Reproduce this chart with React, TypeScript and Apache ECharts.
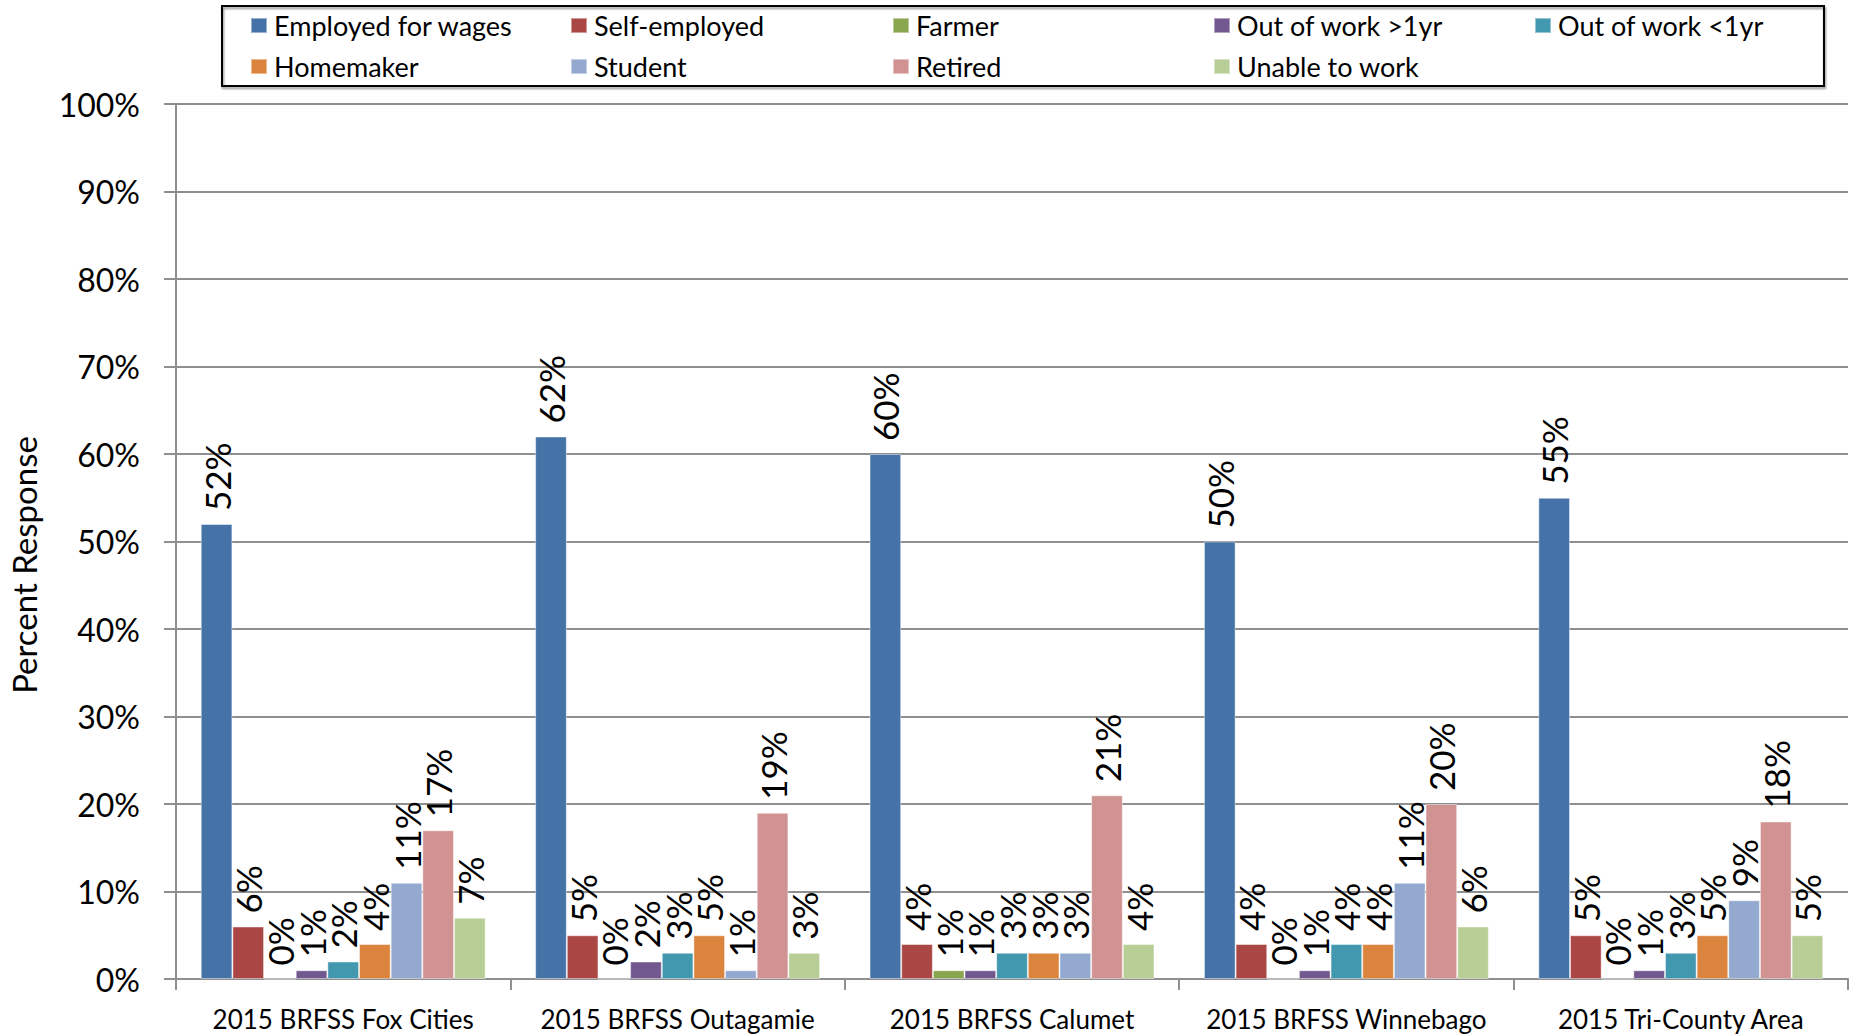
import React, { useEffect, useRef } from "react";
import * as echarts from "echarts";

const categories = [
  "2015 BRFSS Fox Cities",
  "2015 BRFSS Outagamie",
  "2015 BRFSS Calumet",
  "2015 BRFSS Winnebago",
  "2015 Tri-County Area",
];

const seriesNames = [
  "Employed for wages",
  "Self-employed",
  "Farmer",
  "Out of work >1yr",
  "Out of work <1yr",
  "Homemaker",
  "Student",
  "Retired",
  "Unable to work",
];

const employedForWages = [52, 62, 60, 50, 55];
const selfEmployed = [6, 5, 4, 4, 5];
const farmer = [0, 0, 1, 0, 0];
const outOfWorkOver1yr = [1, 2, 1, 1, 1];
const outOfWorkUnder1yr = [2, 3, 3, 4, 3];
const homemaker = [4, 5, 3, 4, 5];
const student = [11, 1, 3, 11, 9];
const retired = [17, 19, 21, 20, 18];
const unableToWork = [7, 3, 4, 6, 5];

const seriesValues = [
  employedForWages,
  selfEmployed,
  farmer,
  outOfWorkOver1yr,
  outOfWorkUnder1yr,
  homemaker,
  student,
  retired,
  unableToWork,
];

const colors = [
  "#4572A7",
  "#AA4643",
  "#89A54E",
  "#71588F",
  "#4198AF",
  "#DB843D",
  "#93A9CF",
  "#D19392",
  "#B9CD96",
];

const yTicks = { min: 0, max: 100, interval: 10 };
const yAxisTitle = "Percent Response";

const legendColumns = [
  ["Employed for wages", "Homemaker"],
  ["Self-employed", "Student"],
  ["Farmer", "Retired"],
  ["Out of work >1yr", "Unable to work"],
  ["Out of work <1yr"],
];
const legendColumnLeft = [250, 570, 892, 1213, 1534];

const FONT = "Lato, 'Open Sans', sans-serif";
const GRID_GRAY = "#8f8f8f";

export default function App() {
  const ref = useRef<HTMLDivElement>(null);

  useEffect(() => {
    if (!ref.current) return;
    const chart = echarts.init(ref.current, null, { renderer: "svg" });

    const option: any = {
      animation: false,
      backgroundColor: "#ffffff",
      textStyle: { fontFamily: FONT, color: "#000" },
      grid: { left: 176, right: 8, top: 104, bottom: 55, containLabel: false },
      legend: legendColumns.map((col, i) => ({
        orient: "vertical",
        left: legendColumnLeft[i],
        top: 12,
        padding: 0,
        itemWidth: 16,
        itemHeight: 15,
        itemGap: 14,
        icon: "rect",
        z: 10,
        data: col,
        selectedMode: false,
        textStyle: {
          fontFamily: FONT,
          fontSize: 27,
          lineHeight: 27,
          color: "#000",
          padding: [0, 0, 0, 2],
        },
      })),
      graphic: [
        {
          type: "rect",
          z: 1,
          shape: { x: 222, y: 6, width: 1602, height: 80 },
          style: {
            fill: "none",
            stroke: "#000",
            lineWidth: 2,
            shadowColor: "rgba(0,0,0,0.45)",
            shadowBlur: 2,
            shadowOffsetX: 1,
            shadowOffsetY: 2,
          },
        },
        {
          type: "text",
          x: 24,
          y: 565,
          rotation: Math.PI / 2,
          style: {
            text: yAxisTitle,
            fontFamily: FONT,
            fontSize: 33,
            fill: "#000",
            align: "center",
            verticalAlign: "middle",
          },
        },
      ],
      xAxis: {
        type: "category",
        data: categories,
        axisLine: { show: true, lineStyle: { color: GRID_GRAY, width: 2 } },
        axisTick: { show: true, length: 11, lineStyle: { color: GRID_GRAY, width: 2 } },
        axisLabel: {
          fontFamily: FONT,
          fontSize: 26,
          color: "#000",
          margin: 27,
          interval: 0,
        },
      },
      yAxis: {
        type: "value",
        min: yTicks.min,
        max: yTicks.max,
        interval: yTicks.interval,
        axisLine: { show: true, lineStyle: { color: GRID_GRAY, width: 2 } },
        axisTick: { show: true, length: 12, lineStyle: { color: GRID_GRAY, width: 2 } },
        splitLine: { show: true, lineStyle: { color: GRID_GRAY, width: 2 } },
        axisLabel: {
          formatter: "{value}%",
          fontFamily: FONT,
          fontSize: 32,
          color: "#000",
          margin: 36,
        },
      },
      series: seriesNames.map((name, i) => ({
        name,
        type: "bar",
        data: seriesValues[i],
        barGap: "0%",
        barCategoryGap: "14.8%",
        itemStyle: {
          color: colors[i],
          borderColor: "rgba(255,255,255,0.45)",
          borderWidth: 1,
        },
        label: {
          show: true,
          position: "top",
          rotate: 90,
          align: "left",
          verticalAlign: "middle",
          distance: 13,
          formatter: "{c}%",
          fontFamily: FONT,
          fontSize: 35,
          color: "#000",
        },
      })),
    };

    chart.setOption(option);
    return () => chart.dispose();
  }, []);

  return (
    <div
      ref={ref}
      style={{ position: "fixed", left: 0, top: 0, width: 1856, height: 1034 }}
    />
  );
}
